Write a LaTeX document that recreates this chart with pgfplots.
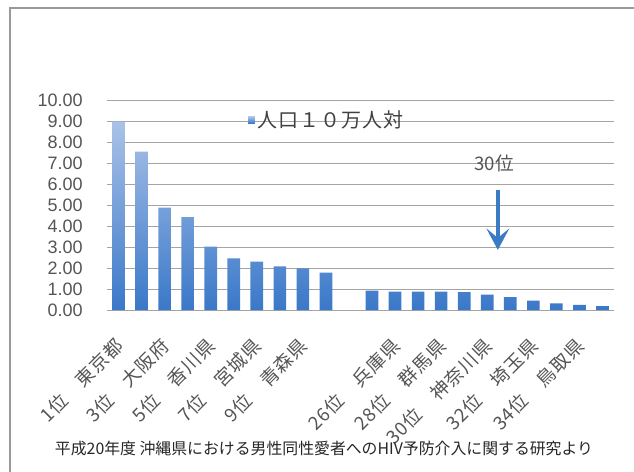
\documentclass[border=0pt]{standalone}
\usepackage{fontspec}
\setmainfont{Liberation Sans}
\newfontfamily\jp{Noto Sans CJK JP}
\newfontfamily\jpl[LetterSpace=5]{Noto Sans CJK JP}
\usepackage{pgfplots}
\pgfplotsset{compat=1.18}
\usetikzlibrary{arrows.meta}
\definecolor{gridc}{HTML}{A4A4A4}
\definecolor{bartop}{HTML}{AAC2E8}
\definecolor{barbot}{HTML}{3A78C8}
\definecolor{arrowc}{HTML}{3A7BC4}
\definecolor{txt}{HTML}{555555}
\begin{document}
\begin{tikzpicture}
\useasboundingbox (0,0) rectangle (475.5pt,353.25pt);
\draw[gray!80, line width=0.8pt] (7.5pt,-10pt) -- (7.5pt,347.25pt) -- (490pt,347.25pt);
\begin{axis}[
  at={(80.25pt,120.75pt)}, anchor=south west,
  scale only axis, width=380.25pt, height=157pt,
  xmin=-0.5, xmax=21.5, ymin=0, ymax=10,
  axis line style={draw=none},
  major tick length=0pt,
  ymajorgrids, grid style={gridc, line width=0.6pt},
  ytick={0,1,...,10},
  yticklabel={\pgfmathprintnumber[fixed,fixed zerofill,precision=2,assume math mode=true]{\tick}},
  yticklabel style={font=\fontsize{13.5}{14}\selectfont, text=txt, anchor=east, inner sep=0pt, xshift=-18pt},
  xtick={0,2,4,6,8,12,14,16,18,20},
  xticklabels={1位　東京都, 3位　大阪府, 5位　香川県, 7位　宮城県, 9位　青森県, 26位　兵庫県, 28位　群馬県, 30位　神奈川県, 32位　埼玉県, 34位　鳥取県},
  xticklabel style={yshift=-24pt, xshift=1pt, rotate=45, anchor=east, inner sep=0pt, font=\jpl\fontsize{14}{14}\selectfont, text=txt},
  legend style={at={(0.278,0.908)}, anchor=west, draw=none, fill=none, inner sep=0pt, font=\jpl\fontsize{15}{15}\selectfont, text=black!75, cells={anchor=west}},
  legend image code/.code={\fill[barbot!75!bartop] (0pt,-2.5pt) rectangle (5pt,2.5pt);},
]
\addplot[ybar, bar width=9.5pt, draw=none, top color=bartop, bottom color=barbot] coordinates {
 (0,9.00) (1,7.56) (2,4.89) (3,4.44) (4,3.03) (5,2.47) (6,2.31) (7,2.09) (8,1.99) (9,1.78)
 (11,0.93) (12,0.88) (13,0.88) (14,0.88) (15,0.86) (16,0.73) (17,0.61) (18,0.45) (19,0.32) (20,0.24) (21,0.18)
};
\addlegendentry{人口１０万人対}
\draw[arrowc, line width=2.8pt, -{Stealth[length=16pt,width=17pt,inset=7pt]}] (axis cs:16.46,5.73) -- (axis cs:16.46,2.87);
\node[font=\jp\fontsize{14}{14}\selectfont, text=txt] at (axis cs:16.3,6.98) {30位};
\end{axis}
\node[font=\jp\fontsize{11.9}{12}\selectfont, text=black!85] at (243pt,17.25pt) {平成20年度 沖縄県における男性同性愛者へのHIV予防介入に関する研究より};
\end{tikzpicture}
\end{document}
